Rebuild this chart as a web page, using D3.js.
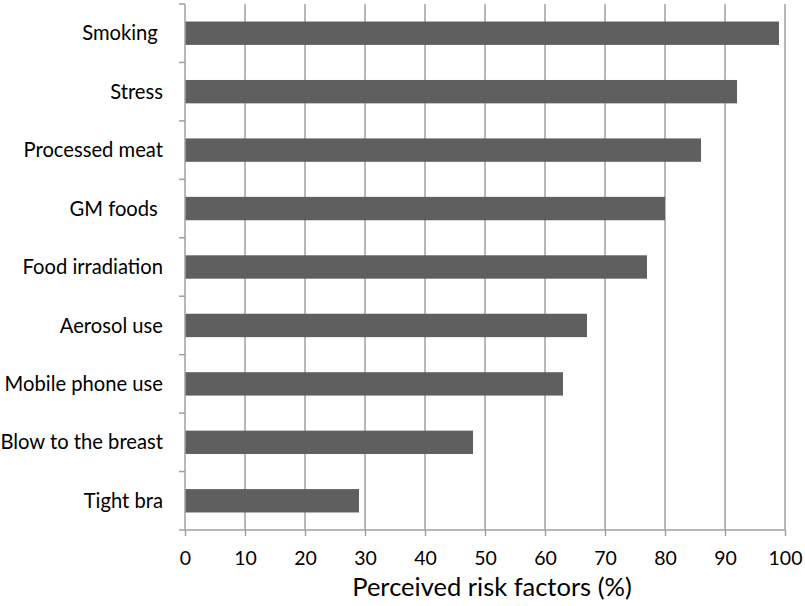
<!DOCTYPE html>
<html><head><meta charset="utf-8">
<script src="https://cdn.jsdelivr.net/npm/d3@7"></script>
<style>html,body{margin:0;padding:0;background:#fff;}svg{display:block;}</style>
</head><body>
<svg id="chart" width="805" height="606"></svg>
<script>
const categories = ["Smoking ", "Stress", "Processed meat", "GM foods ", "Food irradiation", "Aerosol use", "Mobile phone use", "Blow to the breast", "Tight bra"];
const values = [99, 92, 86, 80, 77, 67, 63, 48, 29];
const xTicks = [0, 10, 20, 30, 40, 50, 60, 70, 80, 90, 100];
const xTitle = "Perceived risk factors (%)";

(function () {
const svg = d3.select("#chart");
const font = "Lato, 'Open Sans', sans-serif";
const pL = 185, pR = 785, pT = 4, pB = 530;
const x = d3.scaleLinear().domain([0, 100]).range([pL, pR]);
const y = d3.scaleBand().domain(categories).range([pT, pB]).paddingInner(0.6).paddingOuter(0.3);
const gridColor = "#a0a0a0";

svg.append("g").selectAll("line").data(xTicks.slice(1)).join("line")
  .attr("x1", d => x(d)).attr("x2", d => x(d))
  .attr("y1", pT).attr("y2", pB)
  .attr("stroke", gridColor).attr("stroke-width", 1.5);

svg.append("g").selectAll("rect").data(values).join("rect")
  .attr("x", x(0)).attr("y", (d, i) => y(categories[i]))
  .attr("width", d => x(d) - x(0)).attr("height", y.bandwidth())
  .attr("fill", "#5f5f5f");

const xAxis = d3.axisBottom(x).tickValues(xTicks).tickSize(6).tickPadding(15).tickFormat(d3.format("d"));
const gx = svg.append("g").attr("transform", `translate(0,${pB})`).call(xAxis);
gx.select(".domain").attr("stroke", gridColor).attr("stroke-width", 1.5).attr("d", `M${pL},0H${pR}`);
gx.selectAll(".tick line").attr("stroke", gridColor).attr("stroke-width", 1.5);
gx.selectAll(".tick text").attr("font-family", font).attr("font-size", 19.5).attr("fill", "#000");

const boundaries = d3.range(categories.length + 1).map(i => pT + i * (pB - pT) / categories.length);
svg.append("line").attr("x1", pL).attr("x2", pL).attr("y1", pT).attr("y2", pB)
  .attr("stroke", gridColor).attr("stroke-width", 1.5);
svg.append("g").selectAll("line").data(boundaries).join("line")
  .attr("x1", pL - 6).attr("x2", pL).attr("y1", d => d).attr("y2", d => d)
  .attr("stroke", gridColor).attr("stroke-width", 1.5);

svg.append("g").selectAll("text").data(categories).join("text")
  .attr("x", 163).attr("y", d => y(d) + y.bandwidth() / 2)
  .attr("dy", "0.35em").attr("text-anchor", "end")
  .attr("font-family", font).attr("font-size", 20.2).attr("fill", "#000")
  .style("white-space", "pre")
  .text(d => d);

svg.append("text").attr("x", 492).attr("y", 596).attr("text-anchor", "middle")
  .attr("font-family", font).attr("font-size", 25.5).attr("fill", "#000")
  .text(xTitle);
})();
</script>
</body></html>
